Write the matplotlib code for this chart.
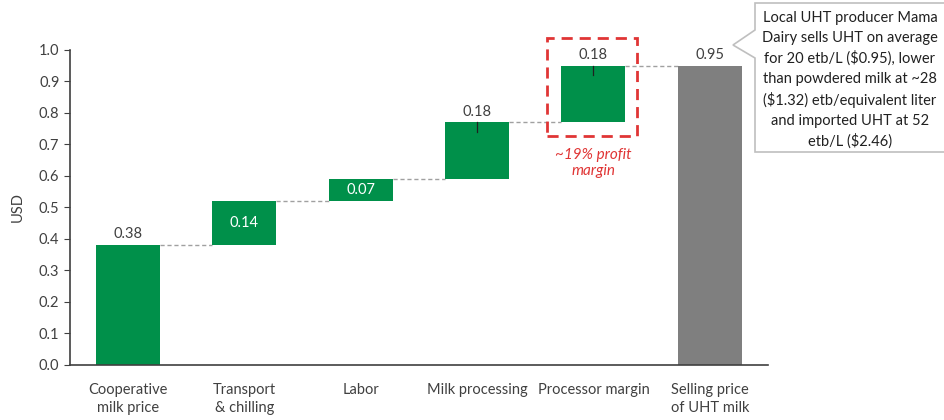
import matplotlib
matplotlib.use('Agg')
import matplotlib.pyplot as plt
from matplotlib.patches import Polygon, Rectangle

categories = ['Cooperative\nmilk price', 'Transport\n& chilling', 'Labor',
              'Milk processing', 'Processor margin', 'Selling price\nof UHT milk']
steps = [0.38, 0.14, 0.07, 0.18, 0.18]
total = 0.95
labels = ['0.38', '0.14', '0.07', '0.18', '0.18', '0.95']
inside = [False, True, True, False, False, False]

callout = ('Local UHT producer Mama\nDairy sells UHT on average\n'
           'for 20 etb/L ($0.95), lower\nthan powdered milk at ~28\n'
           '($1.32) etb/equivalent liter\nand imported UHT at 52\netb/L ($2.46)')

green = '#00904a'
grey = '#7f7f7f'
red = '#e03535'
txt = '#404040'

plt.rcParams['font.family'] = ['Lato', 'DejaVu Sans']

fig = plt.figure(figsize=(9.44, 4.2), dpi=100)
ax = fig.add_axes([0.074, 0.131, 0.7396, 0.75])

bottoms = []
tops = []
level = 0
for s in steps:
    bottoms.append(level)
    level += s
    tops.append(level)
bottoms.append(0)
tops.append(total)
heights = steps + [total]
colors = [green] * len(steps) + [grey]

x = list(range(len(categories)))
w = 0.55
ax.bar(x, heights, bottom=bottoms, width=w, color=colors, zorder=2)

# connectors
for i in range(len(x) - 1):
    ax.plot([x[i] + w / 2, x[i + 1] - w / 2], [tops[i], tops[i]],
            ls=(0, (3, 2)), color='#a0a0a0', lw=1, zorder=1)

for i in range(len(x)):
    if inside[i]:
        ax.text(x[i], (bottoms[i] + tops[i]) / 2, labels[i], ha='center',
                va='center', color='white', fontsize=10.5)
    else:
        ax.text(x[i], tops[i] + 0.012, labels[i], ha='center', va='bottom',
                color=txt, fontsize=10.5)
    if i in (3, 4):
        ax.plot([x[i], x[i]], [tops[i], tops[i] - 0.03], color='#202020',
                lw=0.9, zorder=3)

# red dashed box around processor margin
ax.add_patch(Rectangle((x[4] - 0.4, 0.727), 0.77, 0.311, fill=False,
                       edgecolor=red, lw=2, ls=(0, (4, 2.5)), clip_on=False,
                       zorder=4))
ax.text(x[4], 0.69, '~19% profit\nmargin', ha='center', va='top', color=red,
        style='italic', fontsize=11, linespacing=1.2)

ax.set_xlim(-0.5, 5.5)
ax.set_ylim(0, 1.0)
ax.set_yticks([i / 10 for i in range(11)])
ax.set_yticklabels(['%.1f' % (i / 10) for i in range(11)])
ax.set_xticks(x)
ax.set_xticklabels(categories, color=txt, fontsize=10.5, linespacing=1.4)
ax.tick_params(axis='x', length=0, pad=13)
ax.tick_params(axis='y', labelsize=10.5, labelcolor=txt, length=4,
               color='#404040')
ax.set_ylabel('USD', color=txt, fontsize=10.5, labelpad=10)
for sp in ['top', 'right']:
    ax.spines[sp].set_visible(False)
for sp in ['left', 'bottom']:
    ax.spines[sp].set_color('#404040')
    ax.spines[sp].set_linewidth(1.2)

# callout box
W, H = 944.0, 420.0
pts = [(755, 3), (960, 3), (960, 152), (755, 152), (755, 58), (733, 45),
       (755, 30)]
fig.patches.append(Polygon([(px / W, 1 - py / H) for px, py in pts],
                           closed=True, transform=fig.transFigure,
                           facecolor='white', edgecolor='#bfbfbf', lw=1.2))
fig.text(850 / W, 1 - 80 / H, callout, ha='center', va='center',
         fontsize=10.5, color='#202020', linespacing=1.5)

fig.savefig('out.png', dpi=100)
